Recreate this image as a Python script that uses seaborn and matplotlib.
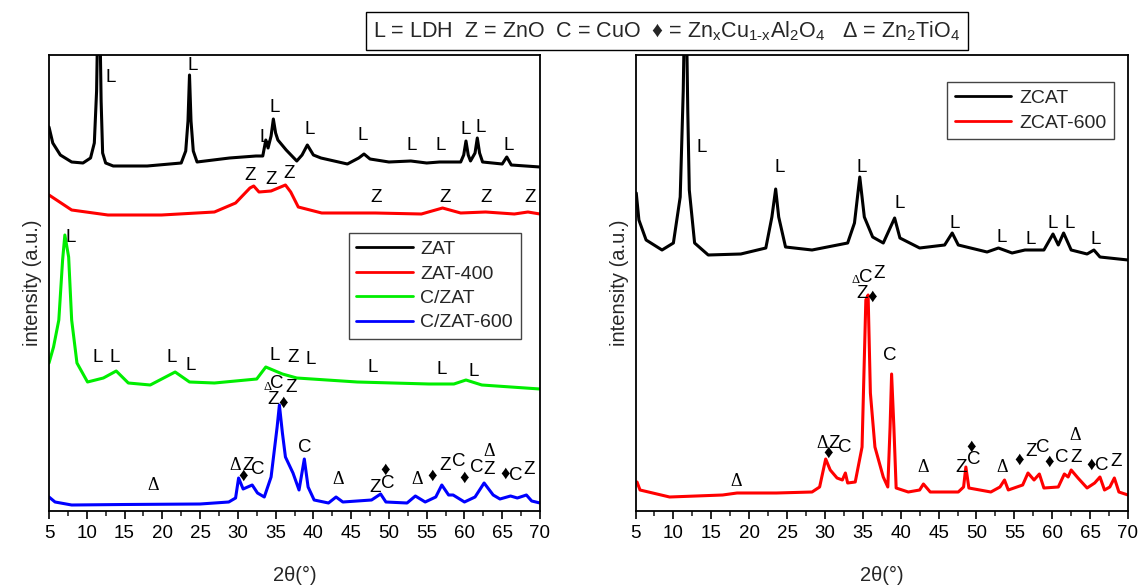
# coding: utf-8

import pandas as pd
import seaborn as sns
import matplotlib.pyplot as plt
from matplotlib.ticker import MultipleLocator

sns.set_theme(style="ticks")
plt.rcParams['font.family'] = ['Liberation Sans', 'DejaVu Sans']
plt.rcParams['mathtext.fontset'] = 'custom'
plt.rcParams['mathtext.rm'] = 'Liberation Sans'
plt.rcParams['mathtext.it'] = 'Liberation Sans:italic'

# ---- left panel (intensities in a.u., already stacked as in the figure)
zat_2t = [5.0, 5.5, 6.5, 8.0, 9.5, 10.5, 11.0, 11.3, 11.6, 11.9, 12.1, 12.5, 13.5, 18.0, 22.5,
          23.1, 23.4, 23.6, 23.8, 24.1, 24.6, 28.9, 32.4, 33.3, 33.7, 34.0, 34.4, 34.7, 35.0,
          35.3, 36.4, 37.8, 38.5, 39.2, 40.0, 41.0, 44.5, 46.0, 46.7, 47.5, 50.0, 52.9, 55.0,
          56.7, 59.5, 59.9, 60.2, 60.5, 60.8, 61.4, 61.7, 62.0, 62.4, 65.0, 65.6, 66.2, 70.0]
zat_i = [384, 368, 356, 349, 348, 353, 368, 420, 560, 410, 358, 348, 345, 345, 348,
         360, 390, 436, 390, 360, 349, 353, 355, 355, 371, 363, 375, 392, 378,
         371, 361, 350, 356, 366, 356, 353, 347, 353, 357, 352, 349, 350, 348,
         349, 349, 356, 370, 356, 350, 358, 373, 358, 349, 347, 354, 346, 344]

zat400_2t = [5.0, 8.0, 12.8, 19.9, 26.9, 29.7, 31.6, 32.1, 32.8, 34.4, 36.3, 37.0, 38.0, 41.1,
             48.2, 54.3, 57.1, 59.5, 62.8, 66.6, 68.4, 70.0]
zat400_i = [316, 301, 296, 296, 299, 308, 323, 325, 319, 320, 326, 319, 304, 298,
            298, 297, 303, 298, 299, 297, 299, 297]

czat_2t = [5.0, 5.6, 6.3, 6.8, 7.1, 7.6, 8.0, 8.7, 10.1, 12.2, 13.9, 15.5, 18.4, 21.7, 23.6,
           26.9, 32.5, 33.7, 35.9, 37.8, 45.8, 55.3, 58.6, 60.2, 62.3, 70.0]
czat_i = [148, 164, 191, 251, 276, 254, 191, 148, 129, 133, 140, 128, 126, 139, 129,
          128, 132, 144, 137, 133, 129, 127, 127, 131, 126, 122]

czat600_2t = [5.0, 5.8, 8.0, 15.0, 25.0, 28.8, 29.7, 30.1, 30.7, 31.9, 32.6, 33.5, 34.4, 35.2,
              35.5, 35.9, 36.3, 37.3, 38.1, 38.8, 39.3, 40.1, 42.0, 43.0, 43.9, 47.7, 48.9,
              49.6, 52.4, 53.5, 54.8, 56.2, 57.0, 57.9, 58.5, 60.0, 61.4, 62.6, 63.8, 64.7,
              66.1, 67.0, 68.2, 68.9, 70.0]
czat600_i = [14, 9, 6, 6.5, 7, 9, 13, 33, 22, 26, 18, 14, 34, 84,
             106, 78, 54, 38, 21, 52, 24, 11, 8, 14, 9, 11, 17,
             9, 8, 15, 9, 14, 26, 16, 16, 9, 14, 28, 16, 12,
             15, 13, 16, 10, 8]

# ---- right panel
zcat_2t = [5.1, 5.45, 6.4, 8.5, 10.0, 10.9, 11.3, 11.6, 11.9, 12.1, 12.8, 14.6, 18.9, 22.2,
           23.0, 23.5, 23.9, 24.8, 28.3, 33.0, 33.9, 34.6, 35.2, 36.3, 37.7, 38.6, 39.2,
           39.9, 42.5, 45.8, 46.8, 47.6, 51.4, 52.9, 54.7, 56.4, 58.9, 60.1, 60.8, 61.5,
           62.5, 64.6, 65.5, 66.3, 70.0]
zcat_i = [318, 291, 271, 261, 268, 314, 420, 560, 400, 321, 268, 256, 257, 263,
          294, 322, 294, 264, 261, 268, 288, 334, 294, 274, 268, 283, 293,
          273, 263, 266, 278, 266, 259, 263, 258, 261, 261, 277, 266, 278,
          261, 257, 261, 254, 251]

zcat600_2t = [5.2, 5.6, 9.5, 16.5, 18.4, 23.6, 28.3, 29.3, 30.1, 30.7, 31.6, 32.3, 32.7, 33.0,
              34.0, 34.9, 35.4, 35.7, 36.0, 36.6, 37.7, 38.3, 38.6, 38.8, 39.1, 39.4, 41.0,
              42.5, 43.0, 43.9, 47.6, 48.3, 48.6, 49.0, 51.9, 53.1, 53.7, 54.2, 56.1, 56.8,
              57.6, 58.3, 58.9, 60.8, 61.6, 62.1, 62.5, 63.4, 64.6, 65.6, 66.3, 66.9, 67.6,
              68.2, 68.8, 70.0]
zcat600_i = [29, 21, 14, 16, 18, 18, 19, 24, 52, 41, 33, 31, 38, 28,
             29, 64, 211, 216, 118, 64, 34, 24, 84, 137, 84, 23, 19,
             21, 27, 19, 19, 24, 44, 23, 19, 24, 31, 21, 26, 38,
             31, 37, 23, 24, 37, 34, 41, 33, 23, 28, 34, 21, 24,
             33, 19, 16]

left_names = ["ZAT", "ZAT-400", "C/ZAT", "C/ZAT-600"]
left_colors = ["black", "red", "#00ee00", "blue"]
right_names = ["ZCAT", "ZCAT-600"]
right_colors = ["black", "red"]

# phase labels: (symbol, 2theta, intensity)
left_labels = [
    ("L", 13.2, 433), ("L", 24.0, 446), ("L", 33.5, 373), ("L", 34.9, 404), ("L", 39.5, 381),
    ("L", 46.5, 376), ("L", 53.0, 366), ("L", 56.9, 366), ("L", 60.2, 381), ("L", 62.2, 384),
    ("L", 65.9, 366),
    ("Z", 31.6, 336), ("Z", 34.4, 332), ("Z", 36.8, 337), ("Z", 48.3, 313), ("Z", 57.4, 314),
    ("Z", 62.9, 313), ("Z", 68.7, 313),
    ("L", 7.9, 273), ("L", 11.4, 153), ("L", 13.7, 154), ("L", 21.3, 154), ("L", 23.8, 146),
    ("L", 34.9, 156), ("Z", 37.3, 154), ("L", 39.6, 152), ("L", 47.8, 143), ("L", 57.0, 141),
    ("L", 61.2, 139),
    ("C", 35.2, 127), ("Z", 37.1, 123), ("Z", 34.7, 111), ("♦", 36.0, 108),
    ("Z", 31.4, 45), ("♦", 30.7, 35), ("C", 32.7, 42), ("C", 38.8, 64),
    ("Z", 48.2, 23), ("C", 49.8, 28), ("♦", 49.5, 41), ("♦", 55.7, 35), ("Z", 57.4, 45),
    ("C", 59.2, 49), ("♦", 59.9, 33), ("C", 61.6, 43), ("Z", 63.3, 41), ("♦", 65.4, 37),
    ("C", 66.8, 36), ("Z", 68.5, 41),
]
left_deltas = [(18.8, 26, 13), (29.7, 46, 13), (43.3, 31, 13), (53.7, 31, 13), (63.2, 59, 13),
               (33.9, 124, 9)]

right_labels = [
    ("L", 13.8, 363), ("L", 24.0, 344), ("L", 34.8, 343), ("L", 39.9, 308), ("L", 47.1, 288),
    ("L", 53.3, 274), ("L", 57.1, 271), ("L", 60.1, 288), ("L", 62.3, 288), ("L", 65.8, 271),
    ("Z", 31.2, 68), ("♦", 30.4, 58), ("C", 32.6, 63),
    ("C", 35.4, 234), ("Z", 37.2, 238), ("Z", 34.9, 218), ("♦", 36.3, 214), ("C", 38.6, 156),
    ("Z", 48.0, 44), ("C", 49.6, 51), ("♦", 49.3, 64), ("♦", 55.6, 51), ("Z", 57.2, 59),
    ("C", 58.7, 64), ("♦", 59.6, 49), ("C", 61.3, 54), ("Z", 63.1, 54), ("♦", 65.2, 46),
    ("C", 66.5, 45), ("Z", 68.4, 49),
]
right_deltas = [(18.3, 29, 13), (29.6, 68, 13), (43.0, 43, 13), (53.4, 44, 13), (63.0, 76, 13),
                (34.1, 231, 9)]


def make_frame(names, series):
    rows = []
    for name, (tt, ii) in zip(names, series):
        rows.append(pd.DataFrame({"2theta": tt, "intensity": ii, "sample": name}))
    return pd.concat(rows, ignore_index=True)


def style_axis(ax):
    ax.set_xlim(5, 70)
    ax.set_ylim(0, 456)
    ax.set_yticks([])
    ax.xaxis.set_major_locator(MultipleLocator(5))
    ax.xaxis.set_minor_locator(MultipleLocator(2.5))
    ax.tick_params(axis="x", which="major", direction="out", length=6, width=1.2,
                   labelsize=13.5, colors="black", pad=4)
    ax.tick_params(axis="x", which="minor", direction="out", length=3.5, width=1.2)
    for s in ax.spines.values():
        s.set_visible(True)
        s.set_color("black")
        s.set_linewidth(1.3)
    ax.set_xlabel("2θ(°)", fontsize=14.5, labelpad=17)
    ax.set_ylabel("intensity (a.u.)", fontsize=14.5, labelpad=5)


def put_labels(ax, labels, deltas):
    for sym, x, y in labels:
        ax.text(x, y, sym, fontsize=13.5, ha="center", va="center", color="black",
                family=["Liberation Sans", "DejaVu Sans"])
    for x, y, size in deltas:
        ax.text(x, y, "Δ", fontsize=size, ha="center", va="center", color="black",
                family=["Liberation Serif", "DejaVu Serif"])


def main():
    fig = plt.figure(figsize=(11.4, 5.87), dpi=100)
    ax1 = fig.add_axes([49 / 1140, 76 / 587, 491 / 1140, 456 / 587])
    ax2 = fig.add_axes([635.5 / 1140, 76 / 587, 492.5 / 1140, 456 / 587])

    df_left = make_frame(left_names, [(zat_2t, zat_i), (zat400_2t, zat400_i),
                                      (czat_2t, czat_i), (czat600_2t, czat600_i)])
    df_right = make_frame(right_names, [(zcat_2t, zcat_i), (zcat600_2t, zcat600_i)])

    sns.lineplot(data=df_left, x="2theta", y="intensity", hue="sample",
                 palette=dict(zip(left_names, left_colors)), estimator=None, sort=False,
                 linewidth=2.2, ax=ax1)
    sns.lineplot(data=df_right, x="2theta", y="intensity", hue="sample",
                 palette=dict(zip(right_names, right_colors)), estimator=None, sort=False,
                 linewidth=2.2, ax=ax2)

    for ax in (ax1, ax2):
        style_axis(ax)

    put_labels(ax1, left_labels, left_deltas)
    put_labels(ax2, right_labels, right_deltas)

    leg1 = ax1.legend(loc="upper right", bbox_to_anchor=(0.961, 0.61), borderaxespad=0,
                      fontsize=14, handlelength=2.9, frameon=True, fancybox=False,
                      labelspacing=0.35, handletextpad=0.4, borderpad=0.4)
    leg2 = ax2.legend(loc="upper right", bbox_to_anchor=(0.972, 0.941), borderaxespad=0,
                      fontsize=14, handlelength=2.9, frameon=True, fancybox=False,
                      labelspacing=0.35, handletextpad=0.4, borderpad=0.4)
    for leg in (leg1, leg2):
        leg.get_frame().set_edgecolor("#444444")
        leg.get_frame().set_linewidth(1.0)
        leg.get_frame().set_alpha(1)
        for line in leg.get_lines():
            line.set_linewidth(2)

    key = ("L = LDH  Z = ZnO  C = CuO  ♦ = Zn$_\\mathregular{x}$Cu$_\\mathregular{1‑x}$"
           "Al$_\\mathregular{2}$O$_\\mathregular{4}$   Δ = Zn$_\\mathregular{2}$TiO$_\\mathregular{4}$")
    fig.text(0.585, 0.947, key, fontsize=15.5, ha="center", va="center",
             family=["Liberation Sans", "DejaVu Sans"],
             bbox=dict(boxstyle="square,pad=0.35", facecolor="white", edgecolor="black",
                       linewidth=1.0))

    plt.savefig("out.png", dpi=100)


if __name__ == '__main__':
    main()
